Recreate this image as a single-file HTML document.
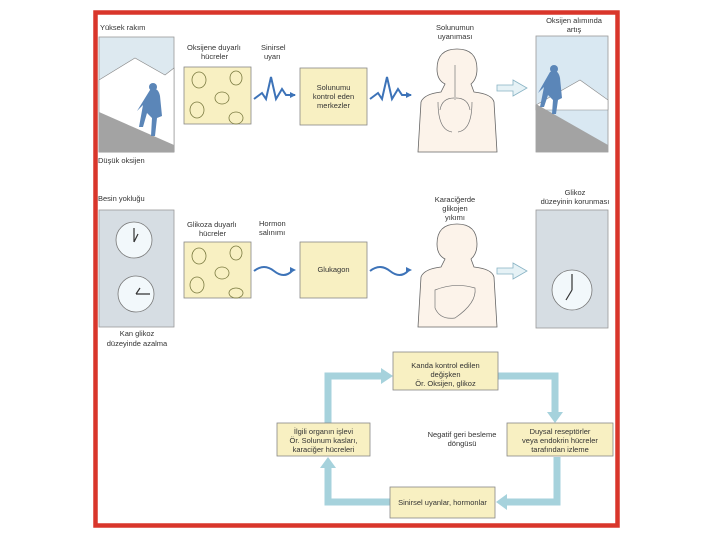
<!DOCTYPE html>
<html><head><meta charset="utf-8"><style>
body{margin:0;background:#fff;width:720px;height:540px;overflow:hidden}
svg{display:block}
text{font-family:"Liberation Sans",sans-serif;font-size:7.5px;fill:#333}
</style></head><body>
<svg width="720" height="540" viewBox="0 0 720 540">
<rect x="95.5" y="12.5" width="522" height="513" fill="#fff" stroke="#d9362b" stroke-width="4.5"/>

<!-- Row 1 -->
<text x="100" y="30">Yüksek rakım</text>
<rect x="99" y="37" width="75" height="115" fill="#dde9f0" stroke="#999" stroke-width="0.8"/>
<polygon points="99,80 135,58 165,75 174,68 174,152 99,152" fill="#fff" stroke="#888" stroke-width="0.6"/>
<polygon points="99,112 174,145 174,152 99,152" fill="#a3a3a3"/>
<path d="M150 90 q8-4 10 6 l2 20 -5 2 -2 18 -4 0 1-18 -5 -5 -4 14 -4 0 4-22 -6 6 z" fill="#5b86b8"/>
<circle cx="153" cy="87" r="4" fill="#5b86b8"/>
<text x="98" y="163">Düşük oksijen</text>

<text x="187" y="50">Oksijene duyarlı</text>
<text x="201" y="59">hücreler</text>
<text x="261" y="50">Sinirsel</text>
<text x="264" y="59">uyarı</text>
<rect x="184" y="67" width="67" height="57" fill="#f8f0c2" stroke="#888" stroke-width="0.8"/>
<g fill="none" stroke="#7a7a40" stroke-width="0.8">
<ellipse cx="199" cy="80" rx="7" ry="8"/><ellipse cx="236" cy="78" rx="6" ry="7"/>
<ellipse cx="222" cy="98" rx="7" ry="6"/><ellipse cx="197" cy="110" rx="7" ry="8"/><ellipse cx="236" cy="118" rx="7" ry="6"/>
</g>
<path d="M254 99 l8-6 4 6 5-22 5 22 6-10 4 6 h9" fill="none" stroke="#3d73b8" stroke-width="2"/>
<polygon points="296,95 290,92 290,98" fill="#3d73b8"/>
<rect x="300" y="68" width="67" height="57" fill="#f8f0c2" stroke="#888" stroke-width="0.8"/>
<text x="333.5" y="90" text-anchor="middle">Solunumu</text>
<text x="333.5" y="99" text-anchor="middle">kontrol eden</text>
<text x="333.5" y="108" text-anchor="middle">merkezler</text>
<path d="M370 99 l8-6 4 6 5-22 5 22 6-10 4 6 h9" fill="none" stroke="#3d73b8" stroke-width="2"/>
<polygon points="412,95 406,92 406,98" fill="#3d73b8"/>
<text x="455" y="30" text-anchor="middle">Solunumun</text>
<text x="455" y="39" text-anchor="middle">uyanıması</text>
<path d="M418 152 l3-50 q3-8 20-10 l4-8 q-8-4-8-15 q0-20 20-20 q20 0 20 20 q0 10-6 15 l3 8 q18 2 20 10 l3 50 z" fill="#fcf3ea" stroke="#666" stroke-width="0.8"/>
<path d="M440 110 q2-12 14-12 M470 110 q-2-12-14-12 M438 102 q0 28 14 30 M472 102 q0 28-14 30 M455 65 v35" fill="none" stroke="#777" stroke-width="0.7"/>
<path d="M497 85 h16 v-5 l14 8 -14 8 v-5 h-16 z" fill="#e6f2f6" stroke="#88b3c4" stroke-width="0.8"/>
<text x="574" y="23" text-anchor="middle">Oksijen alımında</text>
<text x="574" y="32" text-anchor="middle">artış</text>
<rect x="536" y="36" width="72" height="116" fill="#d9e8f2" stroke="#999" stroke-width="0.8"/>
<polygon points="536,105 580,80 608,100 608,110 536,110" fill="#fff" stroke="#888" stroke-width="0.6"/>
<polygon points="536,104 608,145 608,152 536,152" fill="#a3a3a3"/>
<path d="M550 72 q8-4 10 6 l2 20 -4 2 -2 14 -4 0 1-14 -5-5 -4 12 -4 0 4-20 -6 6 z" fill="#5b86b8"/>
<circle cx="554" cy="69" r="4" fill="#5b86b8"/>

<!-- Row 2 -->
<text x="98" y="201">Besin yokluğu</text>
<rect x="99" y="210" width="75" height="117" fill="#d6dde3" stroke="#999" stroke-width="0.8"/>
<circle cx="134" cy="240" r="18" fill="#f2f8fb" stroke="#777" stroke-width="0.8"/>
<path d="M134 242 v-14 M134 242 l4-8" stroke="#333" stroke-width="1.2"/>
<circle cx="136" cy="294" r="18" fill="#f2f8fb" stroke="#777" stroke-width="0.8"/>
<path d="M136 294 h14 M136 294 l4-6" stroke="#333" stroke-width="1.2"/>
<text x="137" y="336" text-anchor="middle">Kan glikoz</text>
<text x="137" y="346" text-anchor="middle">düzeyinde azalma</text>

<text x="187" y="227">Glikoza duyarlı</text>
<text x="199" y="236">hücreler</text>
<text x="259" y="226">Hormon</text>
<text x="259" y="235">salınımı</text>
<rect x="184" y="242" width="67" height="56" fill="#f8f0c2" stroke="#888" stroke-width="0.8"/>
<g fill="none" stroke="#7a7a40" stroke-width="0.8">
<ellipse cx="199" cy="256" rx="7" ry="8"/><ellipse cx="236" cy="253" rx="6" ry="7"/>
<ellipse cx="222" cy="273" rx="7" ry="6"/><ellipse cx="197" cy="285" rx="7" ry="8"/><ellipse cx="236" cy="293" rx="7" ry="5"/>
</g>
<path d="M254 271 q10-8 20 0 t18 0" fill="none" stroke="#3d73b8" stroke-width="2"/>
<polygon points="296,270 290,267 290,273" fill="#3d73b8"/>
<rect x="300" y="242" width="67" height="56" fill="#f8f0c2" stroke="#888" stroke-width="0.8"/>
<text x="333.5" y="272" text-anchor="middle">Glukagon</text>
<path d="M370 271 q10-8 20 0 t18 0" fill="none" stroke="#3d73b8" stroke-width="2"/>
<polygon points="412,270 406,267 406,273" fill="#3d73b8"/>
<text x="455" y="202" text-anchor="middle">Karaciğerde</text>
<text x="455" y="211" text-anchor="middle">glikojen</text>
<text x="455" y="220" text-anchor="middle">yıkımı</text>
<path d="M418 327 l3-50 q3-8 20-10 l4-8 q-8-4-8-15 q0-20 20-20 q20 0 20 20 q0 10-6 15 l3 8 q18 2 20 10 l3 50 z" fill="#fcf3ea" stroke="#666" stroke-width="0.8"/>
<path d="M435 290 q20-8 40-2 q2 15-20 30 q-15 2-20-10 z" fill="none" stroke="#777" stroke-width="0.7"/>
<path d="M497 268 h16 v-5 l14 8 -14 8 v-5 h-16 z" fill="#e6f2f6" stroke="#88b3c4" stroke-width="0.8"/>
<text x="575" y="195" text-anchor="middle">Glikoz</text>
<text x="575" y="204" text-anchor="middle">düzeyinin korunması</text>
<rect x="536" y="210" width="72" height="118" fill="#d6dde3" stroke="#999" stroke-width="0.8"/>
<circle cx="572" cy="290" r="20" fill="#f2f8fb" stroke="#777" stroke-width="0.8"/>
<path d="M572 290 v-16 M572 290 l-6 10" stroke="#333" stroke-width="1.2"/>

<!-- Loop -->
<g fill="none" stroke="#a6d2dc" stroke-width="7">
<path d="M328 423 V376 H382"/>
<path d="M498 376 H555 V414"/>
<path d="M557 457 V502 H506"/>
<path d="M390 502 H328 V466"/>
</g>
<g fill="#a6d2dc">
<polygon points="393,376 381,368 381,384"/>
<polygon points="555,423 547,412 563,412"/>
<polygon points="496,502 507,494 507,510"/>
<polygon points="328,457 320,468 336,468"/>
</g>
<g fill="#f8f0c2" stroke="#888" stroke-width="0.8">
<rect x="393" y="352" width="105" height="38"/>
<rect x="277" y="423" width="93" height="33"/>
<rect x="507" y="423" width="106" height="33"/>
<rect x="390" y="487" width="105" height="31"/>
</g>
<text x="445.5" y="368" text-anchor="middle">Kanda kontrol edilen</text>
<text x="445.5" y="377" text-anchor="middle">değişken</text>
<text x="445.5" y="386" text-anchor="middle">Ör. Oksijen, glikoz</text>
<text x="323.5" y="434" text-anchor="middle">İlgili organın işlevi</text>
<text x="323.5" y="443" text-anchor="middle">Ör. Solunum kasları,</text>
<text x="323.5" y="452" text-anchor="middle">karaciğer hücreleri</text>
<text x="560" y="434" text-anchor="middle">Duysal reseptörler</text>
<text x="560" y="443" text-anchor="middle">veya endokrin hücreler</text>
<text x="560" y="452" text-anchor="middle">tarafından izleme</text>
<text x="442.5" y="505" text-anchor="middle">Sinirsel uyanlar, hormonlar</text>
<text x="462" y="437" text-anchor="middle">Negatif geri besleme</text>
<text x="462" y="446" text-anchor="middle">döngüsü</text>
</svg>
</body></html>
